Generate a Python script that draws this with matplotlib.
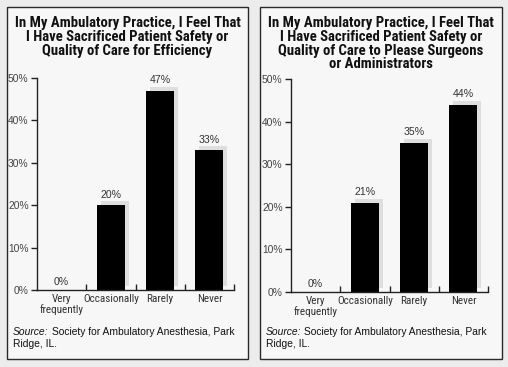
import matplotlib
matplotlib.use("Agg")
import matplotlib.pyplot as plt
from matplotlib.patches import Rectangle
import matplotlib.transforms as mtransforms
from matplotlib import font_manager

categories = ["Very\nfrequently", "Occasionally", "Rarely", "Never"]
values_left = [0, 20, 47, 33]
values_right = [0, 21, 35, 44]
title_left = "In My Ambulatory Practice, I Feel That\nI Have Sacrificed Patient Safety or\nQuality of Care for Efficiency"
title_right = "In My Ambulatory Practice, I Feel That\nI Have Sacrificed Patient Safety or\nQuality of Care to Please Surgeons\nor Administrators"
yticks = [0, 10, 20, 30, 40, 50]
ytick_labels = ["0%", "10%", "20%", "30%", "40%", "50%"]
source_line1 = "Society for Ambulatory Anesthesia, Park"
source_line2 = "Ridge, IL."

W, H = 508, 367
fig = plt.figure(figsize=(W / 100, H / 100), dpi=100)
fig.patch.set_facecolor("#ececec")

avail = {f.name for f in font_manager.fontManager.ttflist}
def pick(names):
    for n in names:
        if n in avail:
            return n
    return "DejaVu Sans"
cond = pick(["Roboto Condensed", "DejaVu Sans Condensed", "Liberation Sans Narrow", "Roboto"])
reg = pick(["Liberation Sans", "Arial", "DejaVu Sans"])

def px(x, y):
    return x / W, 1 - y / H

panels = [
    dict(box=(7, 7, 248, 359), ax=(37, 78, 234, 290), title=title_left, vals=values_left, src_x=13),
    dict(box=(260, 7, 502, 359), ax=(291, 79, 488, 292), title=title_right, vals=values_right, src_x=266),
]

for p in panels:
    x0, y0, x1, y1 = p["box"]
    fx0, fy1 = px(x0, y0)
    fx1, fy0 = px(x1, y1)
    fig.patches.append(Rectangle((fx0, fy0), fx1 - fx0, fy1 - fy0, transform=fig.transFigure,
                                 facecolor="#f7f7f7", edgecolor="#2a2a2a", lw=1.0, zorder=-10))
    cx = (x0 + x1) / 2
    fig.text(cx / W, 1 - 16 / H, p["title"], ha="center", va="top", fontsize=10.6,
             fontweight="bold", family=cond, linespacing=0.98, color="#111111")

    ax0, ay0, ax1, ay1 = p["ax"]
    l, t = px(ax0, ay0)
    r, b = px(ax1, ay1)
    ax = fig.add_axes([l, b, r - l, t - b])
    ax.set_facecolor("none")
    ax.set_zorder(5)
    n = len(categories)
    ax.set_xlim(0, n)
    ax.set_ylim(0, 50)
    xs = [i + 0.5 for i in range(n)]
    bw = 0.57
    shadow_tr = ax.transData + mtransforms.ScaledTranslation(4 / 100, 4 / 100, fig.dpi_scale_trans)
    for xc, v in zip(xs, p["vals"]):
        if v > 0:
            ax.bar(xc, v, width=bw, color="#dedede", transform=shadow_tr, zorder=1)
            ax.bar(xc, v, width=bw, color="#000000", zorder=2)
        ax.annotate(f"{v}%", (xc, v), xytext=(0, 4 if v > 0 else 2), textcoords="offset points",
                    ha="center", va="bottom", fontsize=7.6, family=reg, color="#333333")
    for s in ["top", "right"]:
        ax.spines[s].set_visible(False)
    for s in ["left", "bottom"]:
        ax.spines[s].set_color("#222222")
        ax.spines[s].set_linewidth(1.0)
    ax.set_yticks(yticks)
    ax.set_yticklabels(ytick_labels, family=reg, fontsize=7.4, color="#444444")
    ax.tick_params(axis="y", direction="out", length=4, width=1, color="#222222", pad=2)
    ax.set_xticks(range(1, n + 1))
    ax.set_xticklabels([])
    ax.tick_params(axis="x", direction="in", length=4, width=1, color="#222222")
    for xc, c in zip(xs, categories):
        ax.annotate(c, (xc, 0), xytext=(0, -3), textcoords="offset points", ha="center", va="top",
                    fontsize=8, family=cond, color="#333333", linespacing=1.0,
                    annotation_clip=False)

    sx = p["src_x"]
    t1 = fig.text(sx / W, 1 - 327 / H, "Source:", ha="left", va="top", fontsize=7.4,
                  family=reg, style="italic", color="#111111")
    fig.canvas.draw()
    bb = t1.get_window_extent()
    fig.text((bb.x1 + 3) / W, 1 - 327 / H, source_line1, ha="left", va="top", fontsize=7.4,
             family=reg, color="#111111")
    fig.text(sx / W, 1 - 339 / H, source_line2, ha="left", va="top", fontsize=7.4,
             family=reg, color="#111111")

fig.savefig("out.png", dpi=100, facecolor=fig.get_facecolor())
